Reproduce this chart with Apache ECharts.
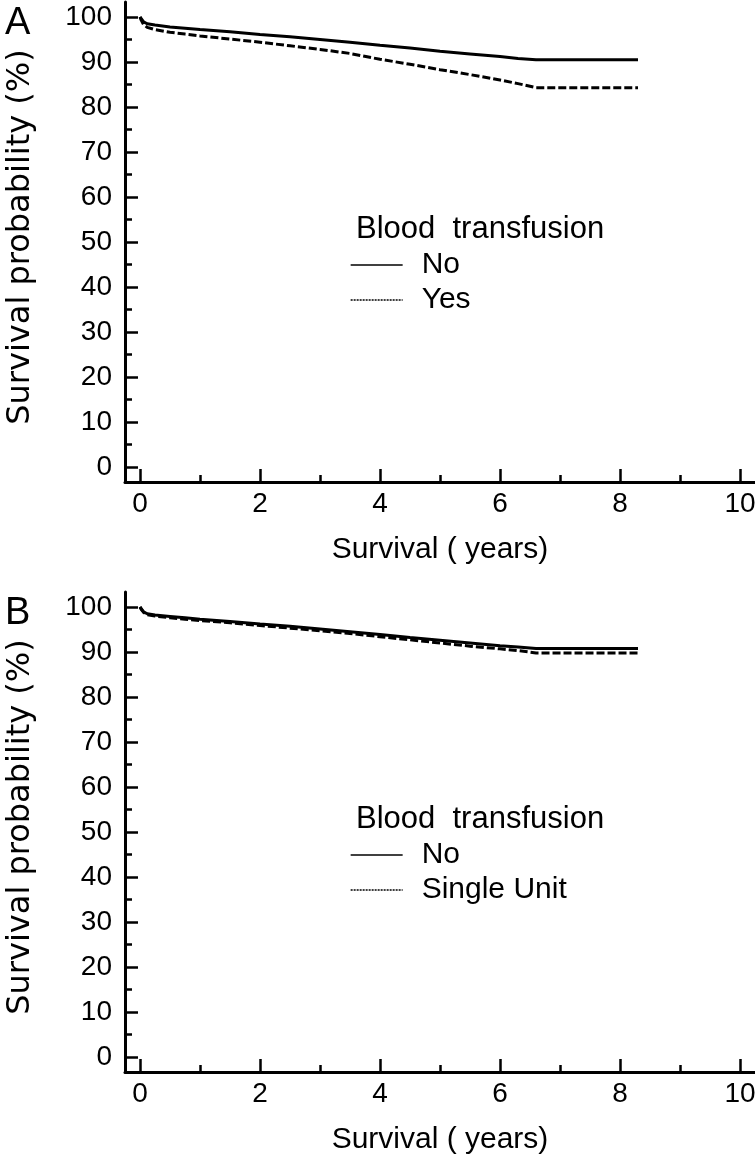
<!DOCTYPE html>
<html>
<head>
<meta charset="utf-8">
<script src="https://cdn.jsdelivr.net/npm/echarts@6/dist/echarts.min.js"></script>
<style>
html,body{margin:0;padding:0;background:#fff;}
#chart{width:755px;height:1159px;}
</style>
</head>
<body>
<div id="chart"></div>
<script>
// ---- data ----
const xMajorTicks = [0, 2, 4, 6, 8, 10];
const xMinorTicks = [1, 3, 5, 7, 9];
const yMajorTicks = [0, 10, 20, 30, 40, 50, 60, 70, 80, 90, 100];
const yMinorTicks = [5, 15, 25, 35, 45, 55, 65, 75, 85, 95];

const years = [0, 0.02, 0.06, 0.12, 0.25, 0.5, 0.75, 1, 1.5, 2, 2.5, 3, 3.5, 4, 4.5, 5, 5.5, 6, 6.3, 6.6, 8.3];

// Panel A
const noA  = [100, 99.6, 98.9, 98.5, 98.2, 97.8, 97.5, 97.2, 96.7, 96.1, 95.6, 95.0, 94.4, 93.7, 93.1, 92.4, 91.8, 91.2, 90.8, 90.5, 90.5];
const yesA = [100, 99.3, 98.3, 97.7, 97.2, 96.6, 96.2, 95.8, 95.1, 94.4, 93.6, 92.8, 91.9, 90.6, 89.5, 88.3, 87.2, 86.0, 85.2, 84.3, 84.3];
// Panel B
const noB     = [100, 99.6, 98.9, 98.5, 98.2, 97.9, 97.6, 97.3, 96.8, 96.2, 95.7, 95.1, 94.5, 93.9, 93.2, 92.6, 92.0, 91.4, 91.1, 90.8, 90.8];
const singleB = [100, 99.5, 98.8, 98.3, 98.0, 97.6, 97.3, 97.0, 96.5, 95.9, 95.3, 94.7, 94.1, 93.4, 92.7, 92.0, 91.3, 90.7, 90.3, 89.8, 89.8];

const legendTitle = 'Blood  transfusion';
const panelLetters = ['A', 'B'];
const xTitle = 'Survival ( years)';
const yTitle = 'Survival probability (%)';

// ---- build chart ----
const pair = (xs, ys) => xs.map((x, i) => [x, ys[i]]);
const BLACK = '#000';
const SANS = '"Liberation Sans", Arial, sans-serif';
const WIDE = '"DejaVu Sans", sans-serif';

const gridTops = [2, 592];
const grids = gridTops.map(t => ({left: 125, right: 0, top: t, height: 480, containLabel: false, outerBoundsMode: 'none'}));

const xAxes = [], yAxes = [];
gridTops.forEach((t, g) => {
  xAxes.push({
    type: 'value', gridIndex: g, position: 'bottom', min: -0.25, max: 10.25,
    axisLine: {show: true, onZero: false, lineStyle: {color: BLACK, width: 3}},
    axisTick: {show: true, inside: true, length: 13, customValues: xMajorTicks, lineStyle: {color: BLACK, width: 2.5}},
    axisLabel: {show: true, customValues: xMajorTicks, margin: 8, color: BLACK, fontSize: 28, fontFamily: SANS, hideOverlap: false},
    splitLine: {show: false},
    name: xTitle, nameLocation: 'middle', nameGap: 53,
    nameTextStyle: {color: BLACK, fontSize: 30, fontFamily: SANS}
  });
  xAxes.push({
    type: 'value', gridIndex: g, position: 'bottom', min: -0.25, max: 10.25,
    axisLine: {show: false, onZero: false},
    axisTick: {show: true, inside: true, length: 7, customValues: xMinorTicks, lineStyle: {color: BLACK, width: 2.5}},
    axisLabel: {show: false}, splitLine: {show: false}
  });
  yAxes.push({
    type: 'value', gridIndex: g, position: 'left', min: -10 / 3, max: 310 / 3,
    axisLine: {show: true, onZero: false, lineStyle: {color: BLACK, width: 3}},
    axisTick: {show: true, inside: true, length: 13, customValues: yMajorTicks, lineStyle: {color: BLACK, width: 2.5}},
    axisLabel: {show: true, customValues: yMajorTicks, margin: 13, color: BLACK, fontSize: 28, fontFamily: SANS},
    splitLine: {show: false},
    name: yTitle, nameLocation: 'middle', nameGap: 88, nameRotate: 90,
    nameTextStyle: {color: BLACK, fontSize: 32, fontFamily: WIDE, padding: [0, 0, 0, 10]}
  });
  yAxes.push({
    type: 'value', gridIndex: g, position: 'left', min: -10 / 3, max: 310 / 3,
    axisLine: {show: false, onZero: false},
    axisTick: {show: true, inside: true, length: 7, customValues: yMinorTicks, lineStyle: {color: BLACK, width: 2.5}},
    axisLabel: {show: false}, splitLine: {show: false}
  });
});

function km(name, data, g, dashed) {
  return {
    type: 'line', name: name, xAxisIndex: 2 * g, yAxisIndex: 2 * g,
    data: data, symbol: 'none', showSymbol: false, smooth: false,
    color: BLACK,
    lineStyle: {color: BLACK, width: 3, type: dashed ? [8, 3] : 'solid'},
    z: 3
  };
}

const series = [
  km('No', pair(years, noA), 0, false),
  km('Yes', pair(years, yesA), 0, true),
  km('No', pair(years, noB), 1, false),
  km('Single Unit', pair(years, singleB), 1, true)
];

function legendFor(g, names) {
  const hidden = {opacity: 0, color: 'rgba(0,0,0,0)', borderWidth: 0};
  return {
    orient: 'vertical', left: 350, top: gridTops[g] + 245.5, padding: 0,
    itemWidth: 52, itemHeight: 14, itemGap: 0, selectedMode: false,
    textStyle: {color: BLACK, fontSize: 30, fontFamily: SANS, lineHeight: 35, padding: [0, 0, 0, 14]},
    data: [
      {name: names[0], itemStyle: hidden, lineStyle: {width: 1.3, type: 'solid', color: BLACK, opacity: 1}},
      {name: names[1], itemStyle: hidden, lineStyle: {width: 1.3, type: [2, 1], color: BLACK, opacity: 1}}
    ]
  };
}

const graphics = [];
gridTops.forEach((t, g) => {
  graphics.push({
    type: 'text', left: 5, top: t + 3,
    style: {text: panelLetters[g], fill: BLACK, font: '38px "Liberation Sans", Arial, sans-serif'}
  });
  graphics.push({
    type: 'text', left: 356, top: t + 212,
    style: {text: legendTitle, fill: BLACK, font: '31px "Liberation Sans", Arial, sans-serif'}
  });
});

const chart = echarts.init(document.getElementById('chart'), null, {renderer: 'canvas'});
chart.setOption({
  animation: false,
  backgroundColor: '#fff',
  grid: grids,
  xAxis: xAxes,
  yAxis: yAxes,
  legend: [legendFor(0, ['No', 'Yes']), legendFor(1, ['No', 'Single Unit'])],
  graphic: graphics,
  series: series
});
</script>
</body>
</html>
